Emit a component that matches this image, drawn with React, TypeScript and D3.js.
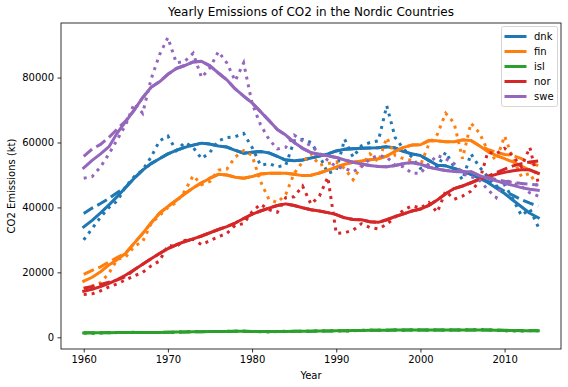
import { useEffect, useRef } from 'react';
import * as d3 from 'd3';

const startYear = 1960;
const countries = ['dnk', 'fin', 'isl', 'nor', 'swe'];
const colors = ['#1f77b4', '#ff7f0e', '#2ca02c', '#d62728', '#9467bd'];
const xTicks = [1960, 1970, 1980, 1990, 2000, 2010];
const yTicks = [0, 20000, 40000, 60000, 80000];

// yearly emissions (kt), 1960..2014
const dnkRaw = [30000, 33500, 37000, 40000, 42000, 46500, 49500, 51500, 55500, 60500,
  62000, 57500, 60000, 58500, 55000, 57000, 60500, 61500, 61800, 62800,
  58500, 53000, 53500, 52500, 53000, 60500, 61000, 60000, 56000, 50500,
  51500, 61000, 55500, 59000, 60000, 60500, 71300, 61500, 58000, 55500,
  52000, 52500, 52500, 57000, 52500, 48500, 56500, 52500, 49500, 46500,
  47000, 42500, 37500, 39500, 34000];
const finRaw = [15000, 15800, 16800, 19800, 24000, 24800, 28000, 29500, 35000, 37500,
  40000, 41500, 45000, 49800, 47000, 48000, 51500, 51800, 55500, 57500,
  56000, 48000, 42500, 41500, 44000, 50500, 54000, 56500, 53000, 53500,
  54000, 52000, 48500, 53000, 56500, 54000, 61500, 56000, 55000, 54500,
  53000, 59500, 62500, 69000, 66000, 55000, 66000, 63000, 57500, 54500,
  62000, 55000, 49500, 50500, 46000];
const islRaw = [1300, 1200, 1350, 1400, 1450, 1500, 1550, 1500, 1450, 1500,
  1450, 1600, 1650, 1750, 1800, 1750, 1800, 1850, 1900, 1850,
  1800, 1700, 1650, 1800, 1850, 1800, 1850, 1900, 1950, 2000,
  2000, 1950, 2000, 2150, 2200, 2150, 2200, 2250, 2200, 2300,
  2250, 2200, 2250, 2200, 2250, 2200, 2350, 2400, 2300, 2150,
  2000, 1950, 1950, 2000, 2000];
const norRaw = [13200, 13400, 14300, 15500, 16500, 17700, 18900, 20000, 22000, 23500,
  28300, 28000, 29800, 30200, 28500, 29800, 31000, 32000, 34500, 35000,
  38700, 41000, 39300, 38500, 43000, 43300, 46600, 41000, 43500, 49300,
  32000, 32200, 33000, 35000, 33800, 33400, 34800, 37000, 39200, 40500,
  39800, 41500, 38500, 45000, 42500, 43500, 45000, 48000, 57000, 56500,
  58200, 55800, 52500, 58500, 47500];
const sweRaw = [49000, 49500, 52500, 56500, 61000, 65500, 72000, 69000, 79500, 87000,
  92300, 84500, 85000, 87500, 80000, 83000, 88000, 84500, 79000, 84500,
  72000, 65500, 61000, 58000, 58500, 62300, 60500, 59000, 56700, 54500,
  52500, 52000, 51000, 52500, 55000, 56000, 55500, 53000, 52500, 50500,
  50500, 53500, 56000, 55000, 53500, 50500, 49500, 48500, 45500, 43000,
  48500, 47500, 46500, 44500, 43500];

// smoothed trend (solid)
const dnkSmooth = [34000, 36000, 38300, 40800, 43400, 46200, 49000, 51500, 53500, 55000,
  56500, 57600, 58500, 59200, 59800, 59500, 58900, 58600, 57600, 56700,
  57000, 57200, 56800, 55700, 54600, 54400, 54600, 55200, 55800, 56500,
  57400, 57900, 58100, 58200, 58300, 58400, 58700, 58300, 57200, 56500,
  56000, 54500, 53000, 52800, 52000, 51200, 50200, 49000, 47700, 46000,
  44300, 42200, 40200, 38200, 36800];
const finSmooth = [17300, 18500, 20200, 22300, 24000, 25900, 29000, 32000, 35200, 38200,
  40300, 42200, 44200, 46000, 47600, 49000, 50200, 50000, 49300, 49000,
  49500, 50300, 50500, 50500, 50500, 50200, 49800, 49900, 50600, 51500,
  52400, 53300, 53900, 54300, 54700, 55000, 55800, 57300, 58500, 59200,
  59300, 60600, 60500, 60200, 60200, 60800, 60600, 59000, 57200, 56000,
  55000, 54000, 52700, 51500, 50500];
const islSmooth = [1350, 1380, 1410, 1440, 1470, 1500, 1510, 1510, 1510, 1520,
  1550, 1600, 1650, 1700, 1740, 1770, 1800, 1820, 1830, 1830,
  1800, 1770, 1760, 1780, 1810, 1840, 1870, 1900, 1930, 1960,
  1990, 2030, 2070, 2110, 2150, 2180, 2200, 2220, 2230, 2240,
  2240, 2240, 2240, 2250, 2260, 2270, 2280, 2280, 2250, 2190,
  2120, 2060, 2020, 2000, 1990];
const norSmooth = [14200, 14800, 15600, 16600, 17800, 19200, 20800, 22500, 24200, 25800,
  27300, 28500, 29500, 30300, 31200, 32200, 33200, 34100, 35200, 36600,
  37900, 38900, 39800, 40600, 41100, 40600, 39900, 39300, 38900, 38400,
  37800, 36800, 36300, 36200, 35600, 35400, 36200, 37200, 38000, 38900,
  39500, 40600, 42300, 44200, 45800, 46600, 47600, 48600, 49400, 50200,
  50800, 51300, 51600, 51600, 50500];
const sweSmooth = [52200, 54500, 56500, 58700, 63000, 66500, 70000, 73800, 77000, 78700,
  81000, 82800, 83700, 84800, 85000, 83600, 81400, 79300, 76500, 74300,
  72200, 69500, 66800, 64000, 62300, 60000, 58200, 56900, 56300, 55900,
  55400, 54600, 53900, 53400, 52900, 52600, 52500, 52900, 53500, 53800,
  53300, 52400, 51800, 51400, 51100, 51000, 51000, 49800, 49000, 48200,
  47400, 46800, 46100, 45600, 45300];

// rolling mean (dashed)
const dnkRolling = [38100, 39800, 41200, 42800, 44600, 46200, 49000, 51500, 53500, 55000,
  56500, 57600, 58500, 59200, 59800, 59500, 58900, 58600, 57600, 56700,
  57000, 57200, 56800, 55700, 54600, 54400, 54600, 55200, 55800, 56500,
  57400, 57900, 58100, 58200, 58300, 58400, 58700, 58300, 57200, 56500,
  56000, 54500, 53000, 52800, 52000, 51200, 50200, 49000, 48000, 46400,
  45000, 43700, 42400, 41300, 40400];
const finRolling = [19400, 20600, 21700, 23200, 24600, 26000, 29000, 32000, 35200, 38200,
  40300, 42200, 44200, 46000, 47600, 49000, 50200, 50000, 49300, 49000,
  49500, 50300, 50500, 50500, 50500, 50200, 49800, 49900, 50600, 51500,
  52400, 53300, 53900, 54300, 54700, 55000, 55800, 57300, 58500, 59200,
  59300, 60600, 60500, 60200, 60200, 60800, 60600, 59000, 57900, 57000,
  56300, 56000, 55000, 53800, 52900];
const islRolling = [1380, 1400, 1420, 1450, 1480, 1500, 1510, 1510, 1510, 1520,
  1550, 1600, 1650, 1700, 1740, 1770, 1800, 1820, 1830, 1830,
  1800, 1770, 1760, 1780, 1810, 1840, 1870, 1900, 1930, 1960,
  1990, 2030, 2070, 2110, 2150, 2180, 2200, 2220, 2230, 2240,
  2240, 2240, 2240, 2250, 2260, 2270, 2280, 2280, 2260, 2220,
  2170, 2120, 2080, 2060, 2050];
const norRolling = [15100, 15650, 16300, 17000, 17700, 18700, 20800, 22500, 24200, 25800,
  27300, 28500, 29500, 30300, 31200, 32200, 33200, 34100, 35200, 36600,
  37900, 38900, 39800, 40600, 41100, 40600, 39900, 39300, 38900, 38400,
  37800, 36800, 36300, 36200, 35600, 35400, 36200, 37200, 38000, 38900,
  39500, 40600, 42300, 44200, 45800, 46600, 47600, 48800, 49600, 50700,
  51800, 52800, 53500, 54000, 54300];
const sweRolling = [55700, 58000, 59400, 61600, 64200, 66700, 70000, 73800, 77000, 78700,
  81000, 82800, 83700, 84800, 85000, 83600, 81400, 79300, 76500, 74300,
  72200, 69500, 66800, 64000, 62300, 60000, 58200, 56900, 56300, 55900,
  55400, 54600, 53900, 53400, 52900, 52600, 52500, 52900, 53500, 53800,
  53300, 52400, 51800, 51400, 51100, 51000, 51000, 49800, 49200, 48600,
  48100, 47700, 47400, 47100, 46900];

const rawSeries = [dnkRaw, finRaw, islRaw, norRaw, sweRaw];
const rollingSeries = [dnkRolling, finRolling, islRolling, norRolling, sweRolling];
const smoothSeries = [dnkSmooth, finSmooth, islSmooth, norSmooth, sweSmooth];

export default function App() {
  const svgRef = useRef<SVGSVGElement>(null);

  useEffect(() => {
    if (!svgRef.current) return;
    const width = 568;
    const height = 387;
    const margin = { top: 23, right: 7, bottom: 38, left: 61 };
    const innerWidth = width - margin.left - margin.right;
    const innerHeight = height - margin.top - margin.bottom;
    const font = 'DejaVu Sans, sans-serif';

    d3.select(svgRef.current).selectAll('*').remove();

    const svg = d3.select(svgRef.current)
      .attr('width', width)
      .attr('height', height)
      .style('font-family', font);

    svg.append('rect').attr('width', width).attr('height', height).attr('fill', '#fff');

    const g = svg.append('g')
      .attr('transform', `translate(${margin.left},${margin.top})`);

    const x = d3.scaleLinear().domain([1957.3, 2016.7]).range([0, innerWidth]);
    const y = d3.scaleLinear().domain([-3600, 96800]).range([innerHeight, 0]);

    const line = d3.line<number>()
      .x((_, i) => x(startYear + i))
      .y(d => y(d));

    countries.forEach((c, ci) => {
      const color = colors[ci];
      g.append('path')
        .datum(rawSeries[ci])
        .attr('d', line)
        .attr('fill', 'none')
        .attr('stroke', color)
        .attr('stroke-width', 3)
        .attr('stroke-dasharray', '3,4.95');
      g.append('path')
        .datum(rollingSeries[ci])
        .attr('d', line)
        .attr('fill', 'none')
        .attr('stroke', color)
        .attr('stroke-width', 3)
        .attr('stroke-dasharray', '11.1,4.8');
      g.append('path')
        .datum(smoothSeries[ci])
        .attr('d', line)
        .attr('fill', 'none')
        .attr('stroke', color)
        .attr('stroke-width', 3)
        .attr('stroke-linejoin', 'round')
        .attr('stroke-linecap', 'square');
    });

    // axes
    const xAxis = g.append('g')
      .attr('transform', `translate(0,${innerHeight})`)
      .call(d3.axisBottom(x).tickValues(xTicks).tickFormat(d3.format('d')).tickSize(3.5).tickPadding(3.5));
    const yAxis = g.append('g')
      .call(d3.axisLeft(y).tickValues(yTicks).tickFormat(d3.format('d')).tickSize(3.5).tickPadding(3.5));
    [xAxis, yAxis].forEach(ax => {
      ax.select('.domain').remove();
      ax.selectAll('line').attr('stroke', '#000').attr('stroke-width', 0.8);
      ax.selectAll('text').attr('fill', '#000').style('font-size', '10px').style('font-family', font);
    });

    g.append('rect')
      .attr('width', innerWidth)
      .attr('height', innerHeight)
      .attr('fill', 'none')
      .attr('stroke', '#000')
      .attr('stroke-width', 0.8);

    svg.append('text')
      .attr('x', margin.left + innerWidth / 2)
      .attr('y', 16)
      .attr('text-anchor', 'middle')
      .style('font-size', '12px')
      .text('Yearly Emissions of CO2 in the Nordic Countries');

    svg.append('text')
      .attr('x', margin.left + innerWidth / 2)
      .attr('y', 379)
      .attr('text-anchor', 'middle')
      .style('font-size', '10px')
      .text('Year');

    svg.append('text')
      .attr('transform', `translate(15,${margin.top + innerHeight / 2}) rotate(-90)`)
      .attr('text-anchor', 'middle')
      .style('font-size', '10px')
      .text('CO2 Emissions (kt)');

    // legend
    const legend = svg.append('g').attr('transform', 'translate(501.5,26.5)');
    legend.append('rect')
      .attr('width', 56)
      .attr('height', 80)
      .attr('rx', 2)
      .attr('fill', '#fff')
      .attr('fill-opacity', 0.8)
      .attr('stroke', '#cccccc')
      .attr('stroke-width', 0.8);
    countries.forEach((c, i) => {
      const item = legend.append('g').attr('transform', `translate(0,${10 + i * 15})`);
      item.append('line')
        .attr('x1', 3).attr('x2', 25)
        .attr('stroke', colors[i])
        .attr('stroke-width', 3);
      item.append('text')
        .attr('x', 32.5)
        .attr('y', 3.6)
        .style('font-size', '10px')
        .text(c);
    });
  }, []);

  return (
    <div style={{ position: 'absolute', left: 0, top: 0 }}>
      <svg ref={svgRef}></svg>
    </div>
  );
}
